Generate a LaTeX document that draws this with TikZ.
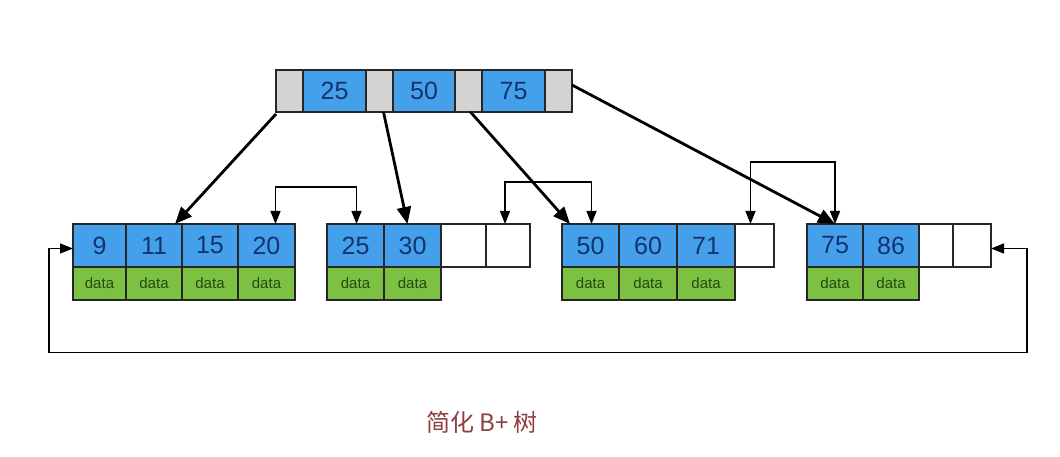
\documentclass[tikz,border=0pt]{standalone}
\usepackage{fontspec}
\setmainfont{Liberation Sans}
\newfontfamily\cjk{Noto Sans CJK SC}
\usetikzlibrary{arrows.meta,calc}
\definecolor{keyblue}{HTML}{45A0EC}
\definecolor{ptrgray}{HTML}{D3D3D3}
\definecolor{datagreen}{HTML}{7DC142}
\definecolor{numblue}{HTML}{12336E}
\definecolor{datatext}{HTML}{254A12}
\definecolor{capred}{HTML}{8E3F3F}
\begin{document}
\begin{tikzpicture}[x=1pt,y=-1pt,
  base/.style={draw=black!85, line width=1.3pt, inner sep=0pt, outer sep=0pt, anchor=north west},
  rgray/.style={base, fill=ptrgray, minimum height=42pt},
  rkey/.style={base, fill=keyblue, minimum height=42pt, text=numblue, font=\fontsize{25}{28}\selectfont},
  key/.style={base, fill=keyblue, minimum height=43pt, text=numblue, font=\fontsize{25}{28}\selectfont},
  empty/.style={base, fill=white, minimum height=43pt},
  datac/.style={base, fill=datagreen, minimum height=33pt, text=datatext, font=\fontsize{15}{17}\selectfont},
  thick arrow/.style={line width=2.8pt, -{Triangle[length=17pt,width=14pt]}},
  link/.style={line width=1.4pt, {Triangle[length=13pt,width=10pt]}-{Triangle[length=13pt,width=10pt]}}
]
\useasboundingbox[fill=white] (0,0) rectangle (1060,457);

% root
\node[rgray, minimum width=27pt] (r0) at (276,70) {};
\node[rkey,  minimum width=63pt] (r1) at (303,70) {25};
\node[rgray, minimum width=27pt] (r2) at (366,70) {};
\node[rkey,  minimum width=62pt] (r3) at (393,70) {50};
\node[rgray, minimum width=27pt] (r4) at (455,70) {};
\node[rkey,  minimum width=63pt] (r5) at (482,70) {75};
\node[rgray, minimum width=27pt] (r6) at (545,70) {};

% leaf 1
\node[key, minimum width=53pt] (a1) at (73,224) {9};
\node[key, minimum width=56pt] (a2) at (126,224) {11};
\node[key, minimum width=56pt] (a3) at (182,224) {15};
\node[key, minimum width=57pt] (a4) at (238,224) {20};
\node[datac, minimum width=53pt] (a1d) at (73,267) {data};
\node[datac, minimum width=56pt] (a2d) at (126,267) {data};
\node[datac, minimum width=56pt] (a3d) at (182,267) {data};
\node[datac, minimum width=57pt] (a4d) at (238,267) {data};

% leaf 2
\node[key, minimum width=57pt] (b1) at (327,224) {25};
\node[key, minimum width=57pt] (b2) at (384,224) {30};
\node[empty, minimum width=45pt] (b3) at (441,224) {};
\node[empty, minimum width=44pt] (b4) at (486,224) {};
\node[datac, minimum width=57pt] (b1d) at (327,267) {data};
\node[datac, minimum width=57pt] (b2d) at (384,267) {data};

% leaf 3
\node[key, minimum width=57pt] (c1) at (562,224) {50};
\node[key, minimum width=58pt] (c2) at (619,224) {60};
\node[key, minimum width=58pt] (c3) at (677,224) {71};
\node[empty, minimum width=39pt] (c4) at (735,224) {};
\node[datac, minimum width=57pt] (c1d) at (562,267) {data};
\node[datac, minimum width=58pt] (c2d) at (619,267) {data};
\node[datac, minimum width=58pt] (c3d) at (677,267) {data};

% leaf 4
\node[key, minimum width=56pt] (d1) at (807,224) {75};
\node[key, minimum width=56pt] (d2) at (863,224) {86};
\node[empty, minimum width=34pt] (d3) at (919,224) {};
\node[empty, minimum width=38pt] (d4) at (953,224) {};
\node[datac, minimum width=56pt] (d1d) at (807,267) {data};
\node[datac, minimum width=56pt] (d2d) at (863,267) {data};

% root pointers
\draw[thick arrow] ([yshift=-2]r0.south west) -- ([xshift=-7]a2.north east);
\draw[thick arrow] ([xshift=4]r2.south) -- ([xshift=-5]b2.north);
\draw[thick arrow] ([xshift=2]r4.south) -- ([xshift=8]c1.north west);
\draw[thick arrow] ([yshift=6]r6.east) -- (d1.north);

% sibling links
\draw[link] ([xshift=9]a4.north) -- ++(0,-37) -| ([xshift=1]b1.north);
\draw[link] ([xshift=-3]b4.north) -- ++(0,-42) -| ([xshift=1]c1.north);
\draw[link] ([xshift=-4]c4.north) -- ++(0,-62) -| (d1.north);
\draw[link] ([yshift=-3]d4.east) -- ++(36,0) -- ++(0,104) -| ([xshift=-24,yshift=-3]a1.west) -- ([yshift=-3]a1.west);

% caption
\node[text=capred, font=\cjk\fontsize{24}{28}\selectfont] (cap) at (482,422) {简化 B+ 树};
\end{tikzpicture}
\end{document}
